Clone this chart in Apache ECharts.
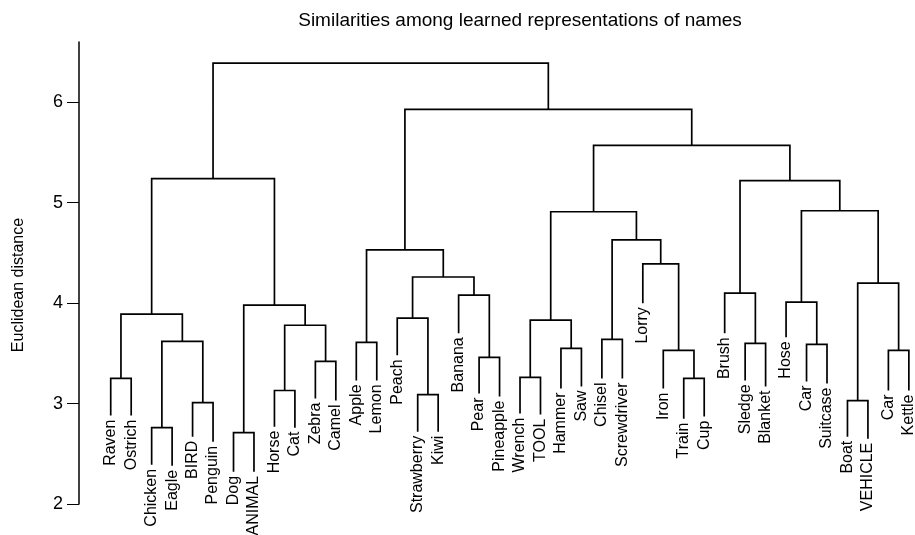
<!DOCTYPE html>
<html>
<head>
<meta charset="utf-8">
<script src="https://cdn.jsdelivr.net/npm/echarts@6/dist/echarts.min.js"></script>
<style>
  html, body { margin: 0; padding: 0; background: #fff; }
  #main { width: 915px; height: 535px; }
</style>
</head>
<body>
<div id="main"></div>
<script>
  // leaf names, left to right
  var leaves = ['Raven', 'Ostrich', 'Chicken', 'Eagle', 'BIRD', 'Penguin', 'Dog', 'ANIMAL',
    'Horse', 'Cat', 'Zebra', 'Camel', 'Apple', 'Lemon', 'Peach', 'Strawberry', 'Kiwi',
    'Banana', 'Pear', 'Pineapple', 'Wrench', 'TOOL', 'Hammer', 'Saw', 'Chisel', 'Screwdriver',
    'Lorry', 'Iron', 'Train', 'Cup', 'Brush', 'Sledge', 'Blanket', 'Hose', 'Car', 'Suitcase',
    'Boat', 'VEHICLE', 'Car', 'Kettle'];
  // where each leaf line stops (label starts just below)
  var leafBottoms = [2.88, 2.88, 2.39, 2.38, 2.67, 2.62, 2.32, 2.32,
    2.77, 2.76, 3.05, 3.03, 3.23, 3.23, 3.48, 2.72, 2.72,
    3.70, 3.10, 3.07, 2.90, 2.89, 3.15, 3.17, 3.25, 3.25,
    4.00, 3.15, 2.85, 2.87, 3.70, 3.23, 3.17, 3.66, 3.22, 3.20,
    2.67, 2.65, 3.13, 3.13];
  // merges: node ids (0-39 leaves, 40+ = result of merge i)
  var mergePairs = [[0, 1], [2, 3], [4, 5], [41, 42], [40, 43], [6, 7], [8, 9], [10, 11],
    [46, 47], [45, 48], [44, 49], [12, 13], [15, 16], [14, 52], [18, 19], [17, 54],
    [53, 55], [51, 56], [20, 21], [22, 23], [58, 59], [24, 25], [28, 29], [27, 62],
    [26, 63], [61, 64], [60, 65], [31, 32], [30, 67], [34, 35], [33, 69], [36, 37],
    [38, 39], [71, 72], [70, 73], [68, 74], [66, 75], [57, 76], [50, 77]];
  var mergeHeights = [3.25, 2.76, 3.01, 3.62, 3.89, 2.71, 3.13, 3.42,
    3.78, 3.98, 5.24, 3.61, 3.09, 3.85, 3.46, 4.08,
    4.26, 4.53, 3.26, 3.55, 3.83, 3.64, 3.25, 3.53,
    4.39, 4.63, 4.91, 3.60, 4.10, 3.59, 4.01, 3.03,
    3.53, 4.20, 4.92, 5.22, 5.57, 5.93, 6.39];
  var yTicks = [2, 3, 4, 5, 6];

  var font = 'Liberation Sans, Arial, Helvetica, sans-serif';

  // cluster x = midpoint of its two children
  var nodeX = leaves.map(function (n, i) { return i; });
  var nodeH = leafBottoms.slice();
  var links = [];
  mergePairs.forEach(function (p, i) {
    var a = p[0], b = p[1], h = mergeHeights[i];
    links.push([nodeX[a], nodeH[a], nodeX[b], nodeH[b], h]);
    nodeX.push((nodeX[a] + nodeX[b]) / 2);
    nodeH.push(h);
  });
  var labelData = leaves.map(function (n, i) { return [i, leafBottoms[i]]; });

  var myChart = echarts.init(document.getElementById('main'));
  myChart.setOption({
    backgroundColor: '#fff',
    animation: false,
    title: {
      text: 'Similarities among learned representations of names',
      left: 515,
      textAlign: 'center',
      top: 6,
      textStyle: { fontSize: 19, fontWeight: 'normal', color: '#000', fontFamily: font }
    },
    grid: { left: 79, right: 0, top: 42, bottom: 31 },
    xAxis: { type: 'value', min: -1.55, max: 39.3, show: false },
    yAxis: {
      type: 'value',
      min: 2,
      max: 6.6,
      interval: 1,
      name: 'Euclidean distance',
      nameLocation: 'middle',
      nameRotate: 90,
      nameGap: 52,
      nameTextStyle: { fontSize: 16, color: '#000', fontFamily: font, padding: [0, 24, 0, 0] },
      axisLine: { show: true, onZero: false, lineStyle: { color: '#000', width: 1.5 } },
      axisTick: { show: true, length: 12, customValues: yTicks, lineStyle: { color: '#000', width: 1 } },
      axisLabel: { fontSize: 18, color: '#000', margin: 16, fontFamily: font, customValues: yTicks },
      splitLine: { show: false }
    },
    series: [{
      type: 'custom',
      data: links,
      encode: { x: [0, 2], y: [1, 3, 4] },
      renderItem: function (params, api) {
        var h = api.value(4);
        var a0 = api.coord([api.value(0), api.value(1)]);
        var a1 = api.coord([api.value(0), h]);
        var b1 = api.coord([api.value(2), h]);
        var b0 = api.coord([api.value(2), api.value(3)]);
        return {
          type: 'polyline',
          shape: { points: [a0, a1, b1, b0] },
          style: { stroke: '#000', lineWidth: 1.7, fill: null }
        };
      }
    }, {
      type: 'custom',
      data: labelData,
      encode: { x: 0, y: 1 },
      renderItem: function (params, api) {
        var p = api.coord([api.value(0), api.value(1)]);
        return {
          type: 'text',
          x: p[0],
          y: p[1] + 4,
          rotation: Math.PI / 2,
          style: {
            text: leaves[params.dataIndex],
            fill: '#000',
            font: '16px ' + font,
            align: 'right',
            verticalAlign: 'middle'
          }
        };
      }
    }]
  });
</script>
</body>
</html>
